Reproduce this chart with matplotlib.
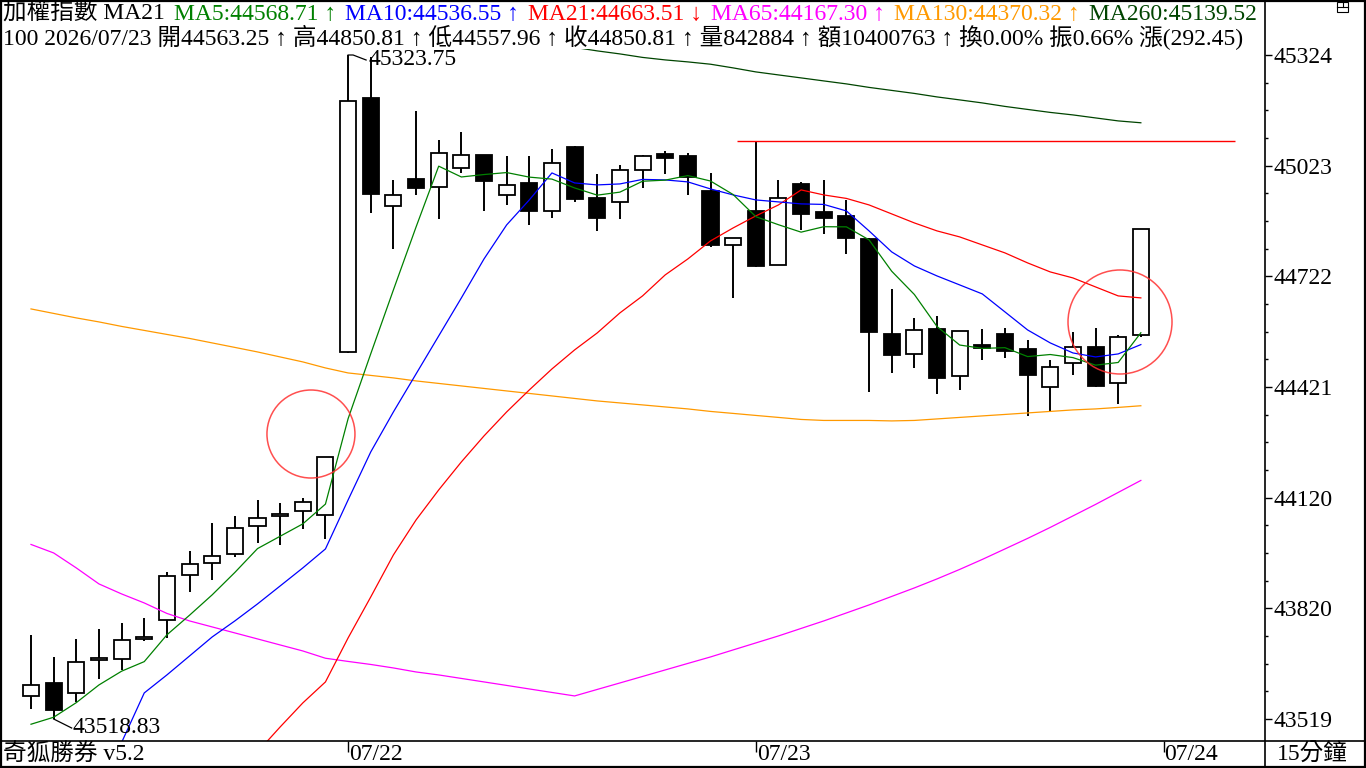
import numpy as np
import matplotlib
matplotlib.use("Agg")
import matplotlib.pyplot as plt
from matplotlib.patches import Rectangle, Ellipse
from matplotlib.lines import Line2D

nan = np.nan

# ---------------- data (15-minute bars, TAIEX) ----------------
opens = [43581, 43616, 43589, 43678, 43683, 43736, 43787, 43910, 43942, 43967,
         44043, 44070, 44084, 44073, 44516, 45207, 44913, 44987, 44964, 45016,
         45051, 44943, 44975, 44899, 45074, 44935, 44924, 45011, 45054, 45049,
         44954, 44806, 44901, 44754, 44973, 44897, 44886, 44824, 44566, 44510,
         44578, 44451, 44536, 44565, 44524, 44421, 44486, 44529, 44432, 44563.25]
highs = [43747, 43688, 43736, 43764, 43781, 43794, 43918, 43976, 44052, 44071,
         44114, 44106, 44119, 44232, 45323.75, 45318, 44984, 45172, 45093, 45115,
         45053, 45049, 45049, 45069, 45077, 45001, 45024, 45051, 45062, 45057,
         45004, 44827, 45091, 44984, 44979, 44984, 44930, 44826, 44688, 44609,
         44614, 44574, 44579, 44582, 44549, 44495, 44571, 44581, 44562, 44850.81]
lows = [43545, 43518.83, 43566, 43627, 43652, 43732, 43738, 43865, 43898, 43958,
        43998, 43993, 44036, 44009, 44514, 44895, 44796, 44942, 44879, 45004,
        44901, 44917, 44863, 44882, 44925, 44844, 44879, 44961, 45000, 44942,
        44803, 44664, 44748, 44752, 44848, 44837, 44783, 44409, 44458, 44474,
        44403, 44414, 44496, 44500, 44342, 44354, 44455, 44422, 44376, 44557.96]
closes = [43611, 43543, 43673, 43684, 43733, 43741, 43907, 43940, 43961, 44037,
          44065, 44075, 44108, 44230, 45198, 44947, 44943, 44963, 45057, 45051,
          44980, 44970, 44901, 45030, 44931, 44882, 45011, 45049, 45045, 44993,
          44808, 44827, 44749, 44935, 44892, 44882, 44825, 44572, 44509, 44576,
          44447, 44573, 44526, 44519, 44455, 44475, 44531, 44423, 44556, 44850.81]

ma5 = [43504.6, 43523.6, 43563.3, 43611.4, 43648.8, 43674.8, 43747.6, 43801.0, 43856.4, 43917.2,
       43982.0, 44015.6, 44049.2, 44103.0, 44335.2, 44511.6, 44685.2, 44856.2, 45021.6, 44992.2,
       44998.8, 45004.2, 44991.8, 44986.4, 44962.4, 44942.8, 44951.0, 44980.6, 44983.6, 44996.0,
       44981.2, 44944.4, 44884.4, 44862.4, 44842.2, 44857.0, 44856.6, 44821.2, 44736.0, 44672.8,
       44585.8, 44535.4, 44526.2, 44528.2, 44504.0, 44509.6, 44501.2, 44480.6, 44488.0, 44568.71]
ma10 = [nan, nan, nan, nan, 43455.0, 43589.7, 43638.6, 43690.2, 43741.9, 43785.4,
        43831.6, 43880.5, 43929.5, 43981.1, 44114.3, 44244.8, 44353.5, 44456.8, 44560.1, 44663.4,
        44769.4, 44861.9, 44929.8, 45003.2, 44976.0, 44970.6, 44973.3, 44985.6, 44984.2, 44978.8,
        44959.7, 44943.4, 44929.8, 44924.4, 44919.0, 44917.6, 44899.9, 44845.6, 44788.5, 44750.4,
        44723.2, 44698.8, 44674.3, 44625.4, 44576.4, 44541.1, 44513.9, 44503.0, 44511.2, 44536.55]
ma21 = [nan, nan, nan, nan, nan, nan, nan, nan, nan, nan,
        43429.3, 43497.2, 43562.5, 43619.6, 43739.2, 43850.6, 43964.8, 44059.9, 44141.5, 44217.6,
        44288.3, 44353.5, 44413.3, 44470.4, 44522.1, 44568.3, 44622.7, 44668.9, 44726.0, 44769.4,
        44818.4, 44853.7, 44886.3, 44916.2, 44957.0, 44943.4, 44933.9, 44916.2, 44891.8, 44867.3,
        44845.6, 44829.3, 44807.5, 44785.8, 44758.6, 44734.1, 44717.8, 44693.3, 44668.9, 44663.51]
ma65 = [43993.3, 43970.2, 43929.5, 43886.0, 43858.8, 43834.3, 43805.8, 43785.4, 43769.1, 43752.8,
        43736.5, 43720.1, 43703.8, 43684.0, 43675.3, 43667.1, 43657.6, 43646.7, 43638.6, 43629.1,
        43619.6, 43610.1, 43600.5, 43591.0, 43581.5, 43599.2, 43616.8, 43634.5, 43652.2, 43669.9,
        43687.5, 43706.6, 43725.6, 43744.6, 43765.0, 43785.4, 43807.1, 43828.9, 43852.0, 43875.1,
        43899.6, 43925.4, 43952.6, 43981.1, 44009.7, 44039.6, 44070.8, 44102.1, 44134.7, 44167.30]
ma130 = [44633.5, 44621.3, 44609.1, 44598.2, 44586.0, 44575.1, 44564.2, 44553.3, 44541.1, 44528.9,
         44516.6, 44503.0, 44489.5, 44473.1, 44459.5, 44452.8, 44446.0, 44437.8, 44431.0, 44424.2,
         44417.4, 44410.6, 44403.8, 44397.0, 44390.2, 44383.4, 44378.0, 44372.6, 44367.1, 44361.7,
         44354.9, 44349.5, 44344.0, 44338.6, 44333.1, 44330.4, 44330.4, 44330.4, 44329.1, 44330.4,
         44334.5, 44338.6, 44342.7, 44346.7, 44350.8, 44354.9, 44359.0, 44361.7, 44365.8, 44370.32]
ma260 = [nan] * 24 + [45344.4, 45334.9, 45326.7, 45317.2, 45310.4, 45305.0, 45298.7, 45288.7,
                      45277.8, 45269.6, 45261.5, 45253.3, 45245.2, 45235.7, 45227.5, 45219.3,
                      45209.8, 45201.7, 45193.5, 45184.0, 45175.8, 45167.7, 45160.9, 45152.7,
                      45144.6, 45139.52]

date_labels = ["07/22", "07/23", "07/24"]
date_index = [14, 32, 50]
ytick_vals = [43518.83, 43819.65, 44120.47, 44421.29, 44722.10, 45022.92, 45323.75]
ytick_labels = ["43519", "43820", "44120", "44421", "44722", "45023", "45324"]

header1 = [("加權指數 MA21", "black"),
           ("MA5:44568.71 ↑", "#008000"),
           ("MA10:44536.55 ↑", "#0000ff"),
           ("MA21:44663.51 ↓", "#ff0000"),
           ("MA65:44167.30 ↑", "#ff00ff"),
           ("MA130:44370.32 ↑", "#ff9900"),
           ("MA260:45139.52 ↓", "#004400")]
header2 = ("100 2026/07/23 開44563.25 ↑ 高44850.81 ↑ 低44557.96 ↑ 收44850.81 ↑ "
           "量842884 ↑ 額10400763 ↑ 換0.00% 振0.66% 漲(292.45)")

# ---------------- layout ----------------
FONT = ["Liberation Serif", "Noto Sans CJK TC", "DejaVu Sans"]
plt.rcParams["font.family"] = FONT
FS = 17
W, H = 1366, 768
PLOT_R = 1265          # right edge of price panel (px)
STRIP = 27             # bottom date strip height (px)
STEP = 22.65           # px per bar
X0 = 31                # px of first bar
TOP_PX, BOT_PX = 55, 719   # px of top / bottom tick
PPP = (BOT_PX - TOP_PX) / (ytick_vals[-1] - ytick_vals[0])
DX = 1.0 / STEP
DY = 1.0 / PPP

fig = plt.figure(figsize=(W / 100, H / 100), dpi=100)
fig.patch.set_facecolor("white")
ax = fig.add_axes([0, STRIP / H, PLOT_R / W, (H - STRIP) / H])
ax.set_xlim(-X0 * DX, (PLOT_R - X0) * DX)
ytop = ytick_vals[-1] + TOP_PX * DY
ybot = ytick_vals[0] - (H - STRIP - BOT_PX) * DY
ax.set_ylim(ybot, ytop)

x = np.arange(len(opens))
o = np.array(opens); c = np.array(closes)
hi = np.array(highs); lo = np.array(lows)
up = c >= o

ax.vlines(x, lo, hi, color="black", lw=1.4, zorder=2)
ax.bar(x, np.abs(c - o), bottom=np.minimum(o, c), width=0.71,
       color=np.where(up, "white", "black"), edgecolor="black", linewidth=1.3, zorder=3)

for series, col in [(ma260, "#004400"), (ma130, "#ff9900"), (ma65, "#ff00ff"),
                    (ma21, "#ff0000"), (ma10, "#0000ff"), (ma5, "#008000")]:
    ax.plot(x, series, color=col, lw=0.9, zorder=4)

# resistance line at the high of bar 32
ax.hlines(highs[32], 32 - 0.85, 53.15, color="#ff0000", lw=1.0, zorder=4)

# marking circles
ax.add_patch(Ellipse((12.36, 44293.5), 88 * DX, 88 * DY, fill=False,
                     edgecolor="#ff3030", lw=1.1, alpha=0.85, zorder=5))
ax.add_patch(Ellipse((48.08, 44598.0), 104 * DX, 104 * DY, fill=False,
                     edgecolor="#ff3030", lw=1.1, alpha=0.85, zorder=5))

# high / low annotations
ih = int(np.argmax(hi)); il = int(np.argmin(lo))
ax.plot([ih, ih + 5 * DX, ih + 18 * DX], [hi[ih], hi[ih], hi[ih] - 5 * DY],
        color="black", lw=0.9, zorder=5)
ax.text(ih + 20 * DX, hi[ih] - 4 * DY, f"{hi[ih]:.2f}", ha="left", va="center",
        fontsize=FS, zorder=6)
ax.plot([il, il + 18 * DX], [lo[il], lo[il] - 9 * DY], color="black", lw=0.9, zorder=5)
ax.text(il + 19 * DX, lo[il] - 8.5 * DY, f"{lo[il]:.2f}", ha="left", va="center",
        fontsize=FS, zorder=6)

# y axis on the right
for s in ax.spines.values():
    s.set_visible(False)
ax.set_xticks([])
ax.yaxis.tick_right()
ax.set_yticks(ytick_vals)
ax.set_yticklabels(ytick_labels)
minor = []
for a, b in zip(ytick_vals[:-1], ytick_vals[1:]):
    minor += [a + (b - a) * k / 4 for k in (1, 2, 3)]
ax.set_yticks(minor, minor=True)
ax.tick_params(axis="y", which="major", direction="out", length=5, width=1,
               pad=1, labelsize=FS)
ax.tick_params(axis="y", which="minor", direction="out", length=2, width=1)

# date strip
ax2 = fig.add_axes([0, 0, PLOT_R / W, STRIP / H], sharex=ax)
ax2.set_ylim(0, 1)
ax2.axis("off")
ax2.vlines(date_index, 0.58, 1.0, color="black", lw=1.0)
for idx, lab in zip(date_index, date_labels):
    ax2.annotate(lab, xy=(idx, 0.5), xycoords=("data", "axes fraction"),
                 xytext=(1, 0), textcoords="offset pixels", ha="left", va="center",
                 fontsize=FS)
fig.text(3 / W, 13.5 / H, "奇狐勝券 v5.2", ha="left", va="center", fontsize=FS)
fig.text(1312 / W, 13.5 / H, "15分鐘", ha="center", va="center", fontsize=FS)

# header (white band over chart top)
fig.add_artist(Rectangle((0, 1 - 48.5 / H), PLOT_R / W, 48.5 / H,
                         transform=fig.transFigure, facecolor="white",
                         edgecolor="none", zorder=5))
renderer = fig.canvas.get_renderer()


def put(xpx, base, s, color):
    t = fig.text(xpx / W, 1 - base / H, s, color=color, fontsize=FS,
                 ha="left", va="baseline", zorder=6)
    t.set_clip_box(ax.bbox)
    t.set_clip_on(True)
    return t.get_window_extent(renderer).x1


xp = 3
for s, col in header1:
    xp = put(xp, 20, s, col) + 9
put(3, 45, header2, "black")

# frame lines
for ln in [Line2D([PLOT_R / W] * 2, [0, 1]), Line2D([0, 1], [STRIP / H] * 2)]:
    ln.set_transform(fig.transFigure)
    ln.set_color("black"); ln.set_linewidth(1.2); ln.set_zorder(8)
    fig.add_artist(ln)
fig.add_artist(Rectangle((0.0007, 0.0013), 0.9986, 0.9974, transform=fig.transFigure,
                         fill=False, edgecolor="black", lw=1.6, zorder=9))

# small window icon in top-right corner
ix0, iy0, iw, ih2 = 1337, 2, 11, 10
fig.add_artist(Rectangle((ix0 / W, 1 - (iy0 + ih2) / H), iw / W, ih2 / H,
                         transform=fig.transFigure, fill=False, edgecolor="black",
                         lw=0.8, zorder=9))
fig.add_artist(Line2D([ix0 / W, (ix0 + iw) / W], [1 - (iy0 + 5) / H] * 2,
                      transform=fig.transFigure, color="black", lw=0.8, zorder=9))
fig.add_artist(Line2D([(ix0 + 6) / W] * 2, [1 - iy0 / H, 1 - (iy0 + 5) / H],
                      transform=fig.transFigure, color="black", lw=0.8, zorder=9))

fig.savefig("out.png", dpi=100, facecolor="white")
